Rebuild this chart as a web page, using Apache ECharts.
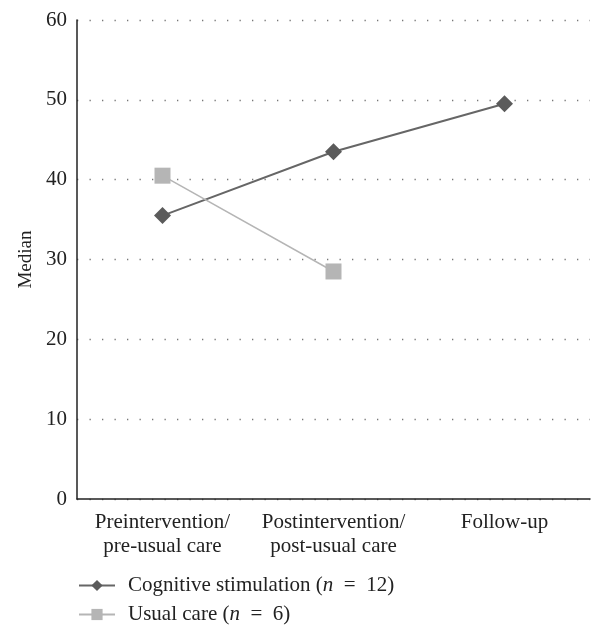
<!DOCTYPE html>
<html><head><meta charset="utf-8">
<script src="https://cdn.jsdelivr.net/npm/echarts@6/dist/echarts.min.js"></script>
<style>html,body{margin:0;padding:0;background:#fff}#c{width:604px;height:643px}</style>
</head><body><div id="c"></div>
<script>
const categories = ["Preintervention/\npre-usual care", "Postintervention/\npost-usual care", "Follow-up"];
const cognitive = [35.5, 43.5, 49.5];
const usualCare = [40.5, 28.5, null];
const yTicks = {min: 0, max: 60, interval: 10};
const seriesNames = ["Cognitive stimulation", "Usual care"];
const seriesN = [12, 6];

const font = "Liberation Serif";
const chart = echarts.init(document.getElementById('c'));
chart.setOption({
  animation: false,
  textStyle: {fontFamily: font},
  grid: {left: 77, top: 20, right: 14, bottom: 144, containLabel: false},
  xAxis: {
    type: 'category', data: categories, boundaryGap: true,
    axisLine: {lineStyle: {color: '#222', width: 1.5}},
    axisTick: {show: false},
    axisLabel: {interval: 0, hideOverlap: false, color: '#222', fontFamily: font, fontSize: 21, margin: 11, lineHeight: 24}
  },
  yAxis: {
    type: 'value', min: yTicks.min, max: yTicks.max, interval: yTicks.interval,
    name: 'Median', nameLocation: 'middle', nameGap: 40,
    nameTextStyle: {color: '#222', fontFamily: font, fontSize: 19},
    axisLine: {show: true, lineStyle: {color: '#222', width: 1.5}},
    axisTick: {show: false},
    axisLabel: {color: '#222', fontFamily: font, fontSize: 21, margin: 10},
    splitLine: {show: true, lineStyle: {color: '#777', width: 1.3, type: [1.3, 11.2]}}
  },
  legend: {
    orient: 'vertical', left: 73, top: 570, itemGap: 8,
    itemWidth: 36, itemHeight: 14,
    textStyle: {color: '#222', fontFamily: font, fontSize: 21, padding: [0, 0, 0, 8], rich: {i: {fontStyle: 'italic', fontFamily: font, fontSize: 21, color: '#222'}}},
    formatter: function (name) {
      const idx = seriesNames.indexOf(name);
      return name + ' ({i|n}  =  ' + seriesN[idx] + ')';
    },
    data: seriesNames
  },
  series: [
    {
      name: seriesNames[0], type: 'line', data: cognitive,
      symbol: 'diamond', symbolSize: 17,
      itemStyle: {color: '#5b5b5b'},
      lineStyle: {color: '#666', width: 2}
    },
    {
      name: seriesNames[1], type: 'line', data: usualCare,
      symbol: 'rect', symbolSize: 16,
      itemStyle: {color: '#b5b5b5'},
      lineStyle: {color: '#b5b5b5', width: 1.5}
    }
  ]
});
</script></body></html>
